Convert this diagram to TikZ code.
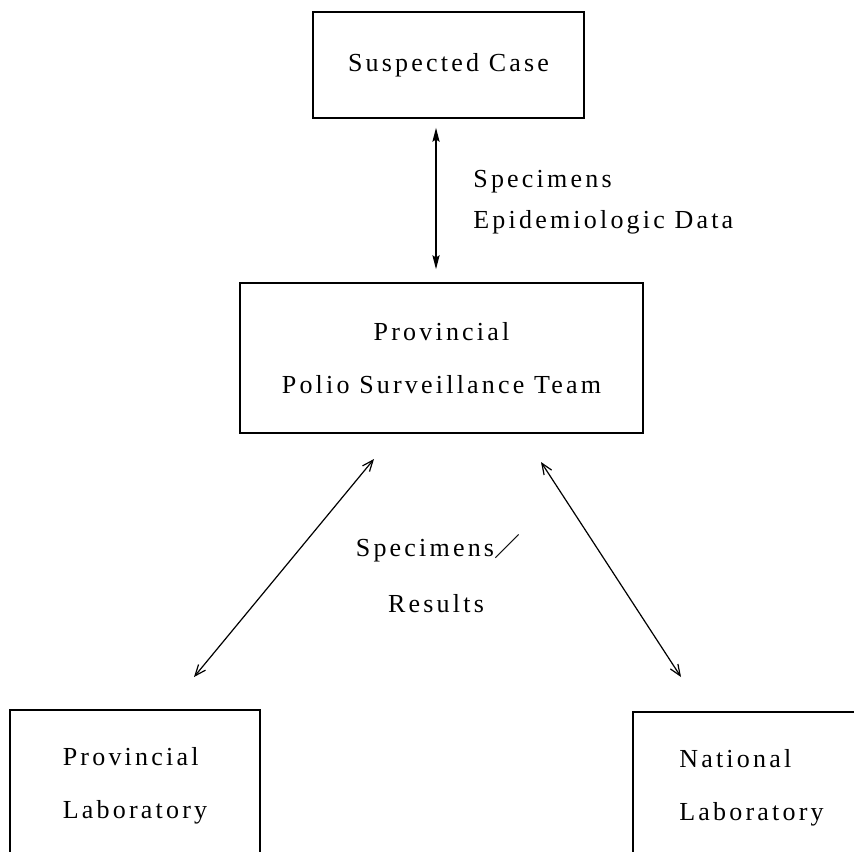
\documentclass[tikz,border=0pt]{standalone}
\usepackage{fontspec}
\setmainfont{Liberation Serif}[LetterSpace=12.3]
\newfontfamily\cjkfont{Noto Sans CJK SC}
\usetikzlibrary{arrows.meta}

\begin{document}
\begin{tikzpicture}[
    x=0.5pt, y=-0.5pt,
    every node/.style={font=\fontsize{13pt}{26.5pt}\selectfont, inner sep=0pt},
    box/.style={draw, line width=0.8pt, align=center},
    leftbox/.style={draw, line width=0.8pt, align=left},
    vlink/.style={line width=0.65pt,
        {Stealth[length=7pt,width=3.6pt,inset=1.2pt]}-{Stealth[length=7pt,width=3.6pt,inset=1.2pt]}},
    dlink/.style={line width=0.6pt,
        {Straight Barb[length=5.5pt,width=4.5pt]}-{Straight Barb[length=5.5pt,width=4.5pt]}},
    label/.style={anchor=base west},
  ]
  \clip (0,0) rectangle (854,851);

  % boxes
  \node[box, minimum width=135.5pt, minimum height=53pt] (case) at (448.5,65) {Suspected Case};
  \node[box, minimum width=201.5pt, minimum height=75pt] (team) at (441.5,358)
      {Provincial\\Polio Surveillance Team};
  \node[leftbox, minimum width=125pt, minimum height=75.5pt] (plab) at (135,785.5)
      {Provincial\\Laboratory};
  \node[leftbox, minimum width=118.5pt, minimum height=75.5pt] (nlab) at (751.5,787.5)
      {National\\Laboratory};

  % case <-> team
  \coordinate (vx) at (436,0);
  \draw[vlink, shorten <=4.5pt, shorten >=6.5pt] (case.south -| vx) -- (team.north -| vx);
  \node[label] (spec1) at (473,187) {Specimens};
  \node[label] (epi) at (473,228) {Epidemiologic Data};

  % team <-> laboratories
  \coordinate (tl) at (374,459);
  \coordinate (tr) at (541,462);
  \coordinate (pl) at (194,677);
  \coordinate (nl) at (681,677);
  \draw[dlink] (tl) -- (pl);
  \draw[dlink] (tr) -- (nl);
  \node[anchor=base] (spec2) at (438,556) {Specimens{\cjkfont ／}};
  \node[anchor=base] (res) at (436,612) {Results};
\end{tikzpicture}
\end{document}
